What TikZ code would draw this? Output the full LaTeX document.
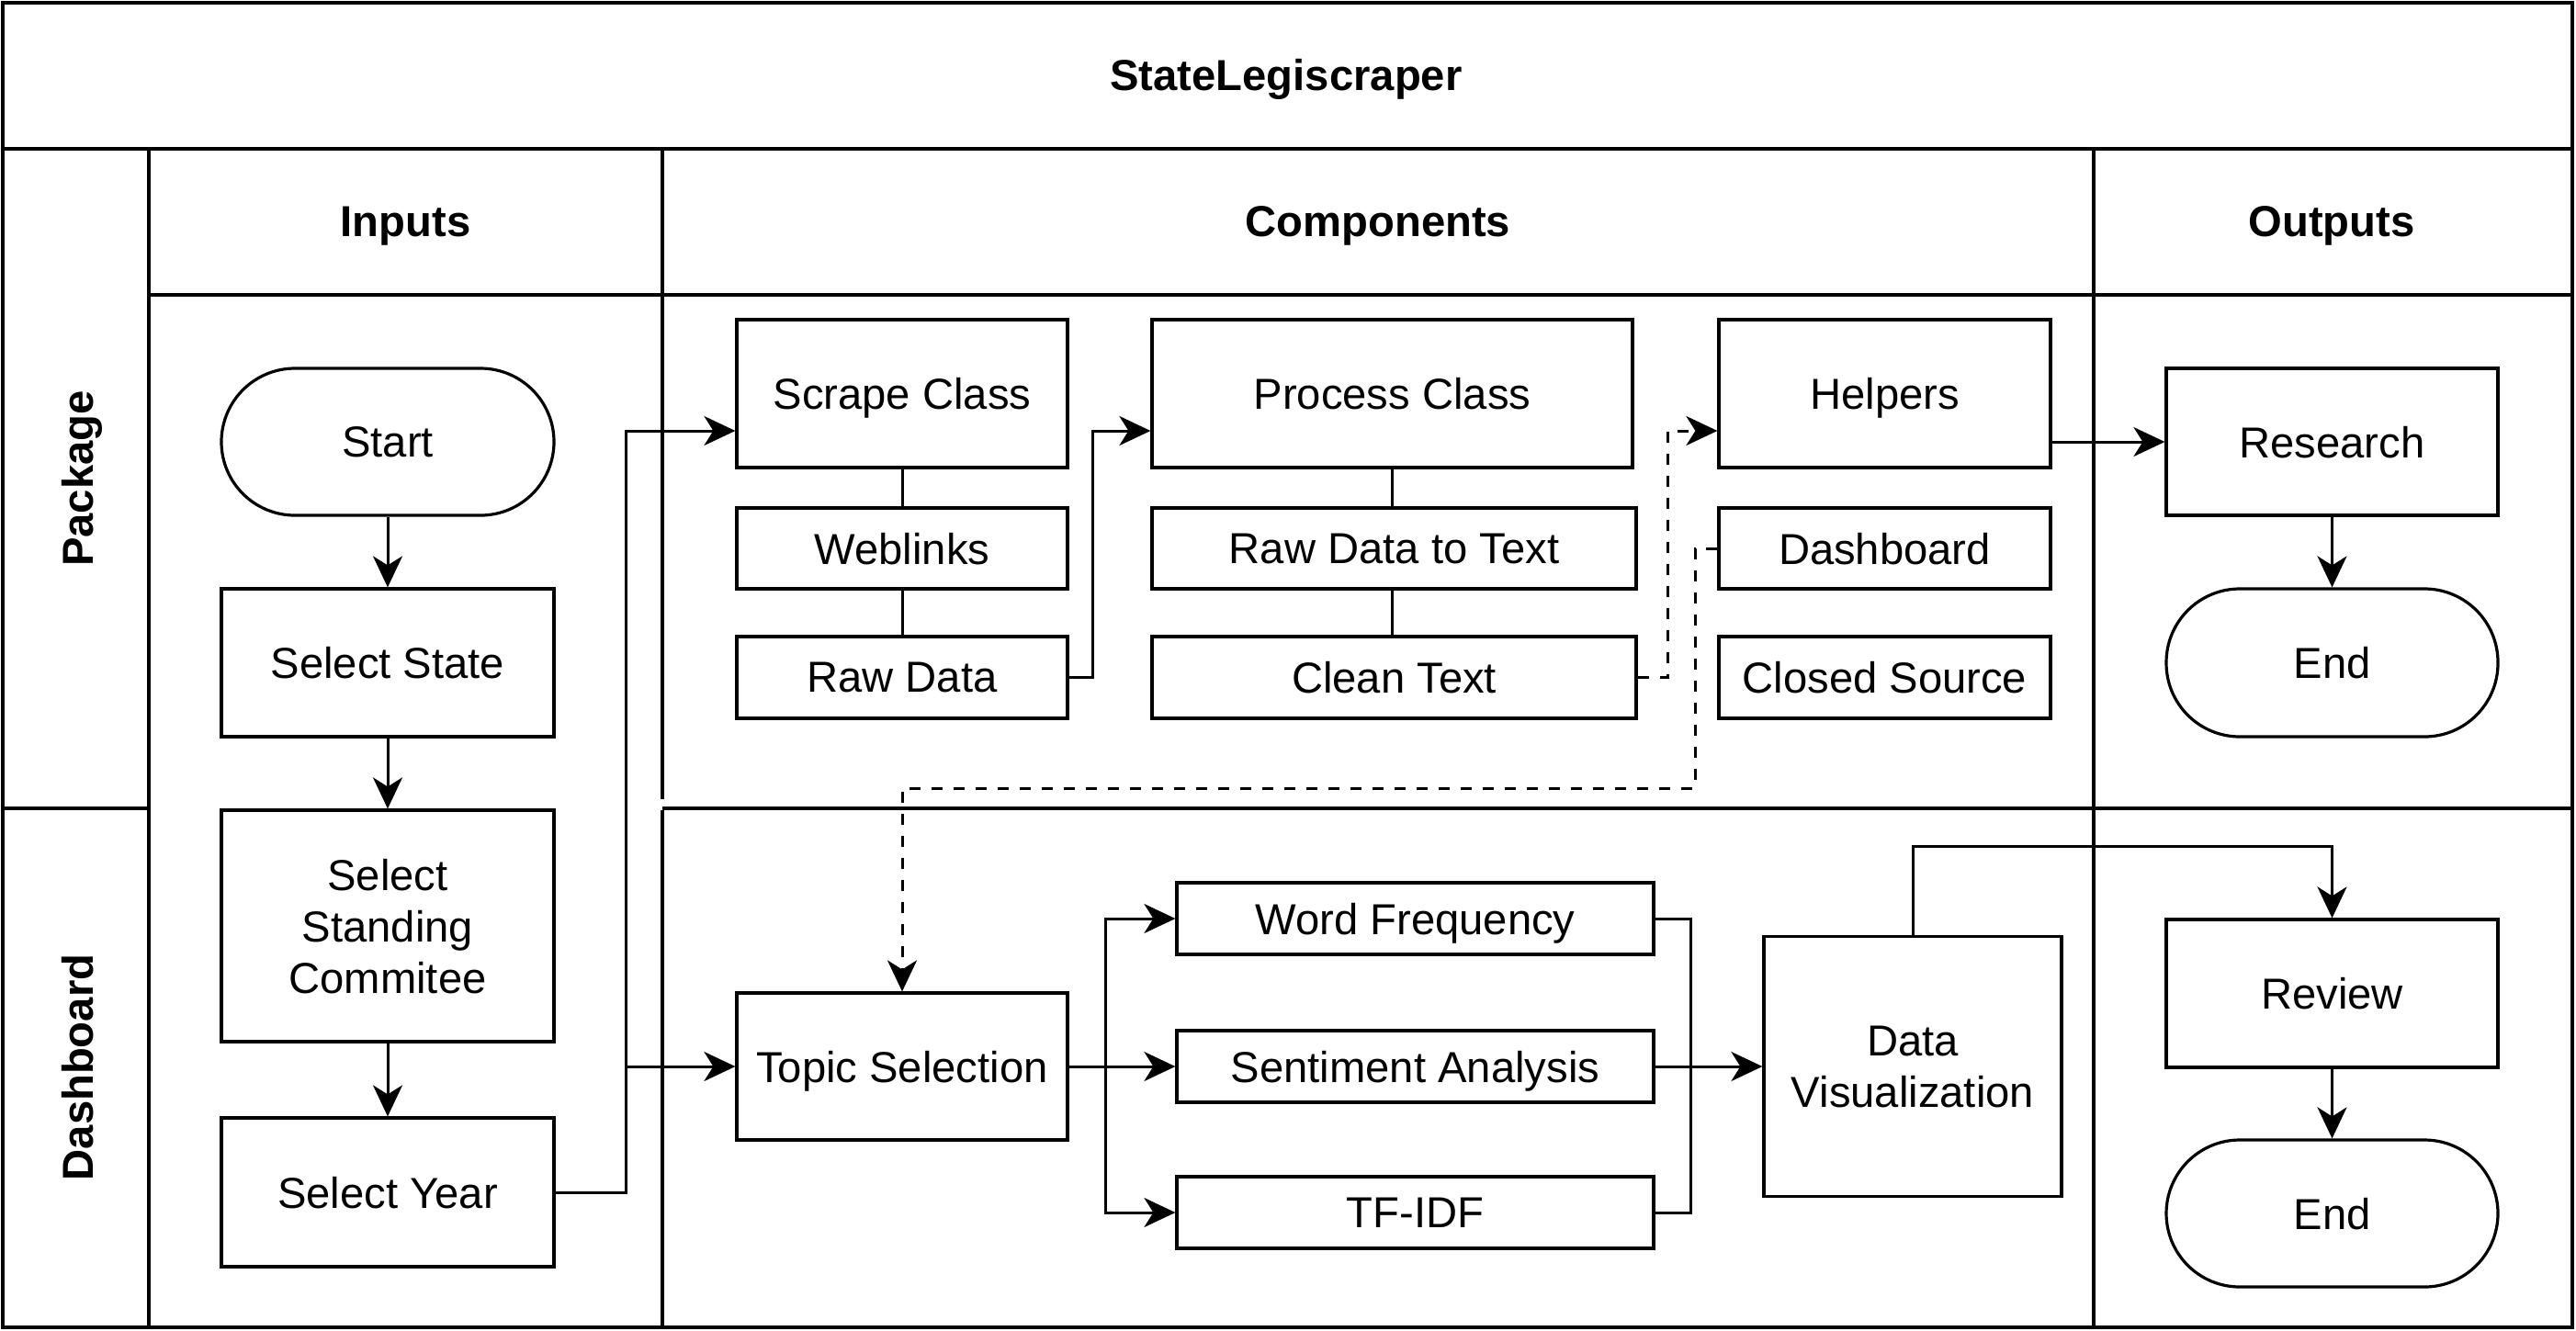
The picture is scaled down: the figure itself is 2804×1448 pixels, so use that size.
\documentclass[tikz,border=0pt]{standalone}
\usepackage{fontspec}
\setmainfont{Liberation Sans}
\usetikzlibrary{arrows.meta}
\begin{document}
\begin{tikzpicture}[x=0.25pt,y=-0.25pt,
  txt/.style={font=\fontsize{11.8}{14}\selectfont, text depth=0pt},
  hdr/.style={font=\fontsize{11.8}{14}\selectfont\bfseries, text depth=0pt},
  box/.style={draw, line width=0.8pt, fill=white, inner sep=0pt, align=center, txt},
  term/.style={box, rounded corners=20pt},
  frame/.style={line width=0.9pt},
  link/.style={line width=0.75pt},
  arr/.style={link, -{Stealth[length=8.5pt,width=8pt,inset=2.5pt]}},
  darr/.style={arr, dash pattern=on 3pt off 3pt}]
\useasboundingbox (0,0) rectangle (2804,1448);
% frame
\draw[frame] (3,3) rectangle (2800,1445);
\draw[frame] (3,162) -- (2800,162);
\draw[frame] (162,162) -- (162,1445);
\draw[frame] (162,321) -- (2800,321);
\draw[frame] (721,162) -- (721,870);
\draw[frame] (721,882) -- (721,1445);
\draw[frame] (2279,162) -- (2279,1445);
\draw[frame] (3,880) -- (162,880);
\draw[frame] (721,880) -- (2800,880);
% headers
\node[hdr] (title) at (1400,81) {StateLegiscraper};
\node[hdr] (hin) at (441.5,241.5) {Inputs};
\node[hdr] (hcomp) at (1500,241.5) {Components};
\node[hdr] (hout) at (2538,241.5) {Outputs};
\node[hdr, rotate=90] (lpkg) at (84,521) {Package};
\node[hdr, rotate=90] (ldash) at (84,1162) {Dashboard};
% inputs
\node[term, minimum width=90.5pt, minimum height=40pt] (start) at (422,481) {Start};
\node[box, minimum width=90.5pt, minimum height=40.25pt] (selstate) at (422,721.5) {Select State};
\node[box, minimum width=90.5pt, minimum height=63pt] (selcom) at (422,1008) {Select\\Standing\\Commitee};
\node[box, minimum width=90.5pt, minimum height=40.5pt] (selyear) at (422,1298) {Select Year};
% components package
\node[box, minimum width=90pt, minimum height=40.25pt] (scrape) at (982,428.5) {Scrape Class};
\node[box, minimum width=90pt, minimum height=22pt] (weblinks) at (982,597) {Weblinks};
\node[box, minimum width=90pt, minimum height=22.25pt] (rawdata) at (982,737.5) {Raw Data};
\node[box, minimum width=130.75pt, minimum height=40.25pt] (process) at (1515.5,428.5) {Process Class};
\node[box, minimum width=131.75pt, minimum height=22pt] (rd2text) at (1517.5,597) {Raw Data to Text};
\node[box, minimum width=131.75pt, minimum height=22.25pt] (clean) at (1517.5,737.5) {Clean Text};
\node[box, minimum width=90.25pt, minimum height=40.25pt] (helpers) at (2051.5,428.5) {Helpers};
\node[box, minimum width=90.25pt, minimum height=22pt] (dashb) at (2051.5,597) {Dashboard};
\node[box, minimum width=90.25pt, minimum height=22.25pt] (closed) at (2051.5,737.5) {Closed Source};
% outputs
\node[box, minimum width=90.25pt, minimum height=40pt] (research) at (2538.5,481) {Research};
\node[term, minimum width=90.25pt, minimum height=40.25pt] (endA) at (2538.5,721.5) {End};
\node[box, minimum width=90.25pt, minimum height=40.25pt] (review) at (2538.5,1081.5) {Review};
\node[term, minimum width=90.25pt, minimum height=40pt] (endB) at (2538.5,1321) {End};
% dashboard
\node[box, minimum width=90pt, minimum height=40pt] (topic) at (982,1161) {Topic Selection};
\node[box, minimum width=129.75pt, minimum height=19.5pt] (wf) at (1540.5,1000) {Word Frequency};
\node[box, minimum width=129.75pt, minimum height=19.5pt] (sent) at (1540.5,1161) {Sentiment Analysis};
\node[box, minimum width=129.75pt, minimum height=19.5pt] (tfidf) at (1540.5,1320) {TF-IDF};
\node[box, minimum width=81pt, minimum height=70.75pt] (dataviz) at (2082,1161) {Data\\Visualization};
% junctions
\coordinate (yj) at (681,1161);
\coordinate (rpj) at (1189,469);
\coordinate (cj) at (1815,469);
\coordinate (dj) at (1845,858);
\coordinate (tj) at (1203,1161);
\coordinate (mj) at (1840,1161);
\coordinate (dvj) at (2538.5,921);
% connectors
\draw[arr] (start) -- (selstate);
\draw[arr] (selstate) -- (selcom);
\draw[arr] (selcom) -- (selyear);
\draw[arr] (selyear.east) -| (yj) |- ([shift={(0,40.5)}]scrape.west);
\draw[arr] (yj) -- (topic.west);
\draw[link] (scrape.south) -- (weblinks.north);
\draw[link] (weblinks.south) -- (rawdata.north);
\draw[link] (process.south) -- (process.south |- rd2text.north);
\draw[link] (rd2text.south -| process.south) -- (clean.north -| process.south);
\draw[arr] (rawdata.east) -- (rawdata.east -| rpj) |- ([shift={(0,40.5)}]process.west);
\draw[darr] (clean.east) -- (clean.east -| cj) |- ([shift={(0,40.5)}]helpers.west);
\draw[darr] (dashb.west) -| (dj) -| (topic.north);
\draw[arr] (research.west -| helpers.east) -- (research.west);
\draw[arr] (research) -- (endA);
\draw[link] (topic.east) -- (tj);
\draw[arr] (tj) |- (wf.west);
\draw[arr] (tj) -- (sent.west);
\draw[arr] (tj) |- (tfidf.west);
\draw[link] (wf.east) -| (mj);
\draw[link] (tfidf.east) -| (mj);
\draw[arr] (sent.east) -- (dataviz.west);
\draw[arr] (dataviz.north) |- (dvj) -- (review.north);
\draw[arr] (review) -- (endB);
\end{tikzpicture}
\end{document}
